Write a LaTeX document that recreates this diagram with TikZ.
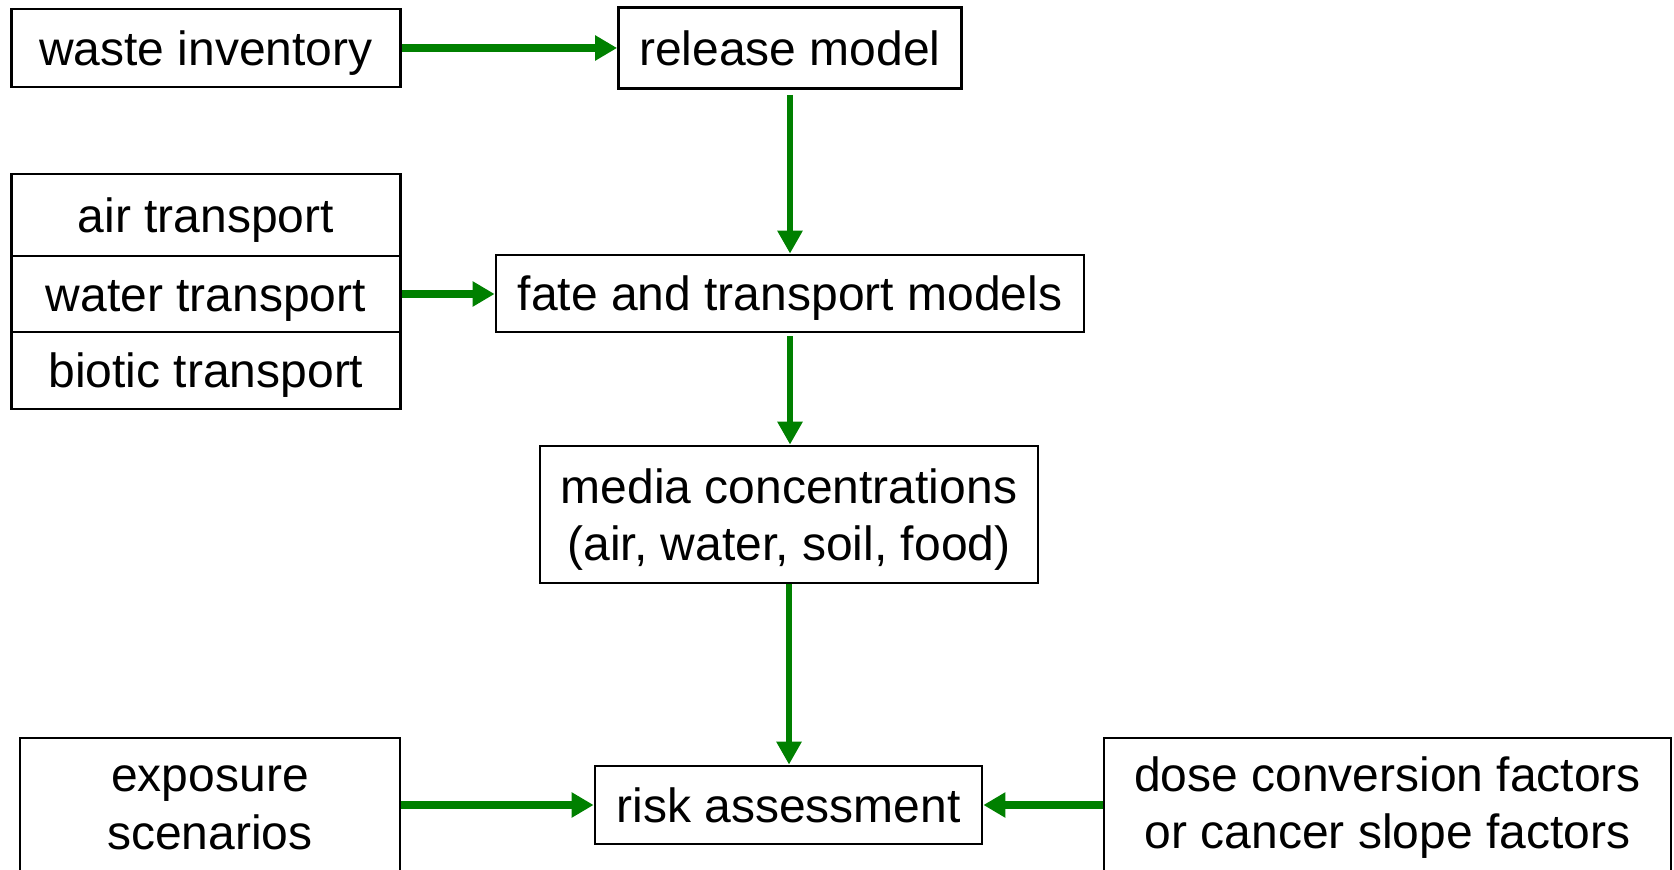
\documentclass[tikz,border=0pt]{standalone}
\usepackage{fontspec}
\setmainfont{Liberation Sans}
\usetikzlibrary{arrows.meta}
\definecolor{arrgreen}{RGB}{0,128,0}
\begin{document}
\begin{tikzpicture}[x=0.5pt,y=-0.5pt,
  box/.style={draw=black, line width=1.4pt, fill=white, inner sep=0pt, align=center,
    font=\fontsize{24}{28.8}\selectfont},
  onebox/.style={box, text height=17.2pt, text depth=0pt},
  twobox/.style={box, text depth=0pt},
  harrow/.style={draw=arrgreen, line width=4.3pt, -{Triangle[width=12pt,length=11pt]}, arrgreen},
  varrow/.style={draw=arrgreen, line width=3.2pt, -{Triangle[width=12pt,length=11.5pt]}, arrgreen},
]
\clip (0,0) rectangle (1674,870);
\fill[white] (0,0) rectangle (1674,870);

\node[onebox, minimum width=194.5pt, minimum height=39pt] (waste) at (206,48) {waste inventory};
\node[onebox, minimum width=171.5pt, minimum height=40.5pt] (release) at (790,48) {release model};

\node[onebox, minimum width=194.5pt, minimum height=41pt] (air) at (206,215) {air transport};
\node[onebox, minimum width=194.5pt, minimum height=38pt] (water) at (206,294) {water transport};
\node[onebox, minimum width=194.5pt, minimum height=38.5pt] (biotic) at (206,370.5) {biotic transport};

\node[onebox, minimum width=294pt, minimum height=38.5pt] (fate) at (790,293.5) {fate and transport models};
\node[twobox, minimum width=249pt, minimum height=68.5pt] (media) at (789,514.5) {media concentrations\\(air, water, soil, food)};
\node[onebox, minimum width=193.5pt, minimum height=39pt] (risk) at (788.5,805) {risk assessment};

\node[twobox, minimum width=190pt, minimum height=69.5pt] (exposure) at (210,807.5) {exposure\\scenarios};
\node[box, minimum width=283.5pt, minimum height=69.5pt] (dose) at (1387.5,807.5) {dose conversion factors\\or cancer slope factors};

\draw[harrow] (waste.east) -- (release.west);
\draw[harrow] (water.east) -- (water.east -| fate.west);
\draw[harrow] (exposure.east |- risk.west) -- (risk.west);
\draw[harrow] (dose.west |- risk.east) -- (risk.east);

\draw[varrow, shorten <=2.5pt] (release.south) -- (release.south |- fate.north);
\draw[varrow, shorten <=1.5pt] (fate.south) -- (fate.south |- media.north);
\draw[varrow] (media.south) -- (media.south |- risk.north);
\end{tikzpicture}
\end{document}
